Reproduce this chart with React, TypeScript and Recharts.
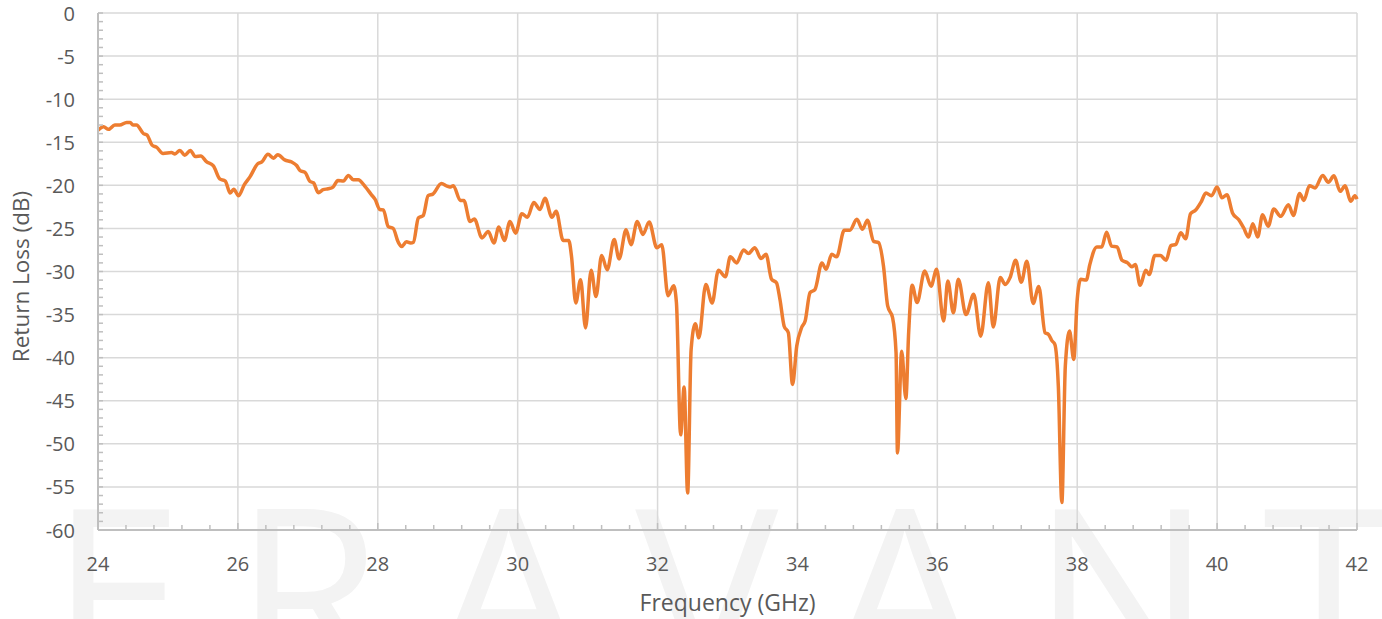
import { LineChart, Line, XAxis, YAxis, CartesianGrid } from "recharts";

// return loss sweep
const freqGHz = [
  24.0, 24.08, 24.15, 24.24, 24.31, 24.41, 24.46, 24.5, 24.55, 24.65, 24.7, 24.77, 24.84, 24.93,
  25.05, 25.1, 25.17, 25.24, 25.32, 25.39, 25.47, 25.55, 25.65, 25.74, 25.82, 25.89, 25.94,
  26.01, 26.09, 26.17, 26.29, 26.34, 26.43, 26.51, 26.57, 26.67, 26.77, 26.84, 26.89, 26.96,
  27.03, 27.08, 27.15, 27.22, 27.29, 27.36, 27.43, 27.51, 27.58, 27.65, 27.72, 27.82, 27.91, 27.96,
  28.03, 28.08, 28.15, 28.22, 28.29, 28.34, 28.41, 28.47, 28.51, 28.58, 28.65, 28.72, 28.79, 28.91, 28.99,
  29.03, 29.08, 29.18, 29.23, 29.32, 29.38, 29.49, 29.58, 29.66, 29.73, 29.81, 29.89, 29.97,
  30.06, 30.14, 30.23, 30.32, 30.39, 30.49, 30.55, 30.65, 30.73, 30.77, 30.83, 30.9, 30.97,
  31.05, 31.12, 31.2, 31.28, 31.38, 31.45, 31.55, 31.62, 31.71, 31.79, 31.88, 31.99,
  32.06, 32.15, 32.23, 32.27, 32.33, 32.38, 32.43, 32.48, 32.54, 32.59, 32.69, 32.78, 32.87, 32.97,
  33.04, 33.13, 33.23, 33.3, 33.39, 33.48, 33.55, 33.63, 33.7, 33.75, 33.81, 33.87, 33.93, 33.99,
  34.06, 34.11, 34.18, 34.25, 34.35, 34.41, 34.49, 34.56, 34.67, 34.75, 34.85, 34.93,
  35.0, 35.09, 35.16, 35.23, 35.29, 35.36, 35.41, 35.43, 35.49, 35.55, 35.59, 35.64, 35.71, 35.82, 35.91, 35.99,
  36.09, 36.15, 36.23, 36.3, 36.41, 36.52, 36.62, 36.73, 36.8, 36.9, 36.97,
  37.04, 37.12, 37.2, 37.28, 37.37, 37.45, 37.54, 37.59, 37.64, 37.68, 37.73, 37.78, 37.83, 37.89, 37.95,
  38.0, 38.05, 38.13, 38.18, 38.28, 38.35, 38.42, 38.49, 38.57, 38.64, 38.72, 38.78, 38.83, 38.9, 38.98,
  39.03, 39.11, 39.19, 39.27, 39.34, 39.41, 39.48, 39.55, 39.62, 39.69, 39.77, 39.84, 39.92,
  40.0, 40.07, 40.14, 40.22, 40.31, 40.38, 40.45, 40.51, 40.58, 40.65, 40.73, 40.81, 40.91,
  41.02, 41.09, 41.18, 41.24, 41.32, 41.4, 41.51, 41.59, 41.67, 41.76, 41.83, 41.91, 41.97, 42.0,
];

const returnLossDb = [
  -13.6, -13.2, -13.5, -13.0, -13.0, -12.7, -12.7, -13.0, -13.0, -14.0, -14.15, -15.3, -15.6, -16.3,
  -16.2, -16.35, -15.95, -16.5, -15.95, -16.65, -16.6, -17.25, -17.75, -19.25, -19.5, -20.9, -20.45,
  -21.2, -19.95, -19.05, -17.45, -17.3, -16.4, -16.85, -16.45, -17.05, -17.3, -17.7, -18.3, -18.5,
  -19.55, -19.7, -20.85, -20.5, -20.4, -20.2, -19.45, -19.5, -18.85, -19.35, -19.35, -20.15, -21.1, -21.6,
  -22.8, -22.85, -24.8, -25.0, -26.55, -27.1, -26.55, -26.7, -26.6, -23.8, -23.5, -21.2, -21.0, -19.8, -20.1,
  -20.2, -20.05, -21.75, -21.75, -24.2, -23.9, -26.1, -25.35, -26.7, -24.85, -26.4, -24.2, -25.55,
  -23.3, -23.7, -22.0, -22.8, -21.5, -23.7, -23.0, -26.4, -26.4, -28.25, -33.65, -30.95, -36.55,
  -29.85, -32.9, -28.15, -29.8, -26.3, -28.55, -25.15, -26.9, -24.2, -25.7, -24.25, -27.25,
  -26.9, -32.8, -31.65, -33.65, -48.95, -43.4, -55.7, -39.05, -36.05, -37.7, -31.5, -33.65, -29.85, -30.6,
  -28.3, -29.0, -27.5, -27.9, -27.25, -28.5, -28.0, -30.9, -31.3, -33.25, -36.35, -37.1, -43.1, -38.65,
  -36.5, -35.75, -32.45, -32.1, -29.0, -29.75, -28.0, -28.3, -25.2, -25.2, -23.95, -25.1,
  -24.05, -26.5, -26.65, -29.35, -34.0, -35.35, -39.45, -51.05, -39.25, -44.75, -37.1, -31.6, -33.6, -29.95, -31.7, -29.75,
  -35.75, -31.1, -34.8, -30.9, -35.0, -32.65, -37.5, -31.3, -36.45, -30.7, -31.5,
  -30.7, -28.7, -31.25, -28.8, -33.7, -31.75, -37.1, -37.3, -38.05, -38.45, -43.3, -56.8, -40.95, -36.9, -40.2,
  -33.25, -30.9, -31.0, -29.2, -27.15, -27.15, -25.45, -27.05, -27.15, -28.7, -29.0, -29.45, -29.2, -31.6, -29.85,
  -30.35, -28.15, -28.15, -28.7, -27.0, -26.85, -25.5, -26.2, -23.3, -22.9, -21.95, -20.9, -21.2,
  -20.2, -21.45, -21.1, -23.2, -24.0, -24.95, -26.0, -24.45, -26.0, -23.4, -24.75, -22.75, -23.6,
  -22.25, -23.5, -20.95, -21.75, -20.05, -20.3, -18.85, -19.65, -18.9, -20.7, -20.05, -21.85, -21.2, -21.6,
];

const xMajorTicks = [24, 26, 28, 30, 32, 34, 36, 38, 40, 42];
const yMajorTicks = [0, -5, -10, -15, -20, -25, -30, -35, -40, -45, -50, -55, -60];

// minor ticks: every 0.4 GHz and every 1 dB
const xTicks = Array.from({ length: 46 }, (_, i) => Math.round((24 + i * 0.4) * 10) / 10);
const yTicks = Array.from({ length: 61 }, (_, i) => (i === 0 ? 0 : -i));

const data = freqGHz.map((f, i) => ({ f, rl: returnLossDb[i] }));

const FONT = '"Open Sans", sans-serif';
const TEXT = "#595959";
const AXIS = "#bfbfbf";
const GRID = "#d9d9d9";
const ORANGE = "#ED7D31";

const XTick = ({ x, y, payload }: any) => {
  const major = xMajorTicks.includes(payload.value);
  return (
    <g>
      <line x1={x} x2={x} y1={y} y2={y - (major ? 7 : 5)} stroke={AXIS} strokeWidth={1.5} />
      {major && (
        <text x={x} y={y + 33} textAnchor="middle" dominantBaseline="central" fill={TEXT} fontSize={20} fontFamily={FONT}>
          {payload.value}
        </text>
      )}
    </g>
  );
};

const YTick = ({ x, y, payload }: any) => {
  const major = yMajorTicks.includes(payload.value);
  return (
    <g>
      <line x1={x} x2={x + 5} y1={y} y2={y} stroke={AXIS} strokeWidth={1.5} />
      {major && (
        <text x={x - 23} y={y} textAnchor="end" dominantBaseline="central" fill={TEXT} fontSize={20} fontFamily={FONT}>
          {payload.value}
        </text>
      )}
    </g>
  );
};

const XLabel = ({ viewBox }: any) => (
  <text
    x={viewBox.x + viewBox.width / 2}
    y={viewBox.y + 72}
    textAnchor="middle"
    dominantBaseline="central"
    fill={TEXT}
    fontSize={23}
    fontFamily={FONT}
  >
    Frequency (GHz)
  </text>
);

const YLabel = ({ viewBox }: any) => {
  const cx = 20;
  const cy = viewBox.y + viewBox.height / 2 + 5;
  return (
    <text
      x={cx}
      y={cy}
      transform={`rotate(-90 ${cx} ${cy})`}
      textAnchor="middle"
      dominantBaseline="central"
      fill={TEXT}
      fontSize={22.5}
      fontFamily={FONT}
    >
      Return Loss (dB)
    </text>
  );
};

export default function App() {
  return (
    <div style={{ position: "relative", width: 1382, height: 619, overflow: "hidden", background: "#fff" }}>
      <style>{"body{margin:0}"}</style>
      {/* faint company watermark behind the plot */}
      <svg width={1382} height={619} style={{ position: "absolute", left: 0, top: 0 }}>
        <text
          x={50}
          y={681}
          fontSize={240}
          fontWeight={500}
          fontFamily={FONT}
          fill="#f3f3f3"
          textLength={1345}
          lengthAdjust="spacing"
        >
          ERAVANT
        </text>
      </svg>
      <div style={{ position: "absolute", left: 0, top: 0 }}>
        <LineChart width={1382} height={619} data={data} margin={{ top: 13, right: 25, bottom: 0, left: 0 }}>
          <CartesianGrid stroke={GRID} strokeWidth={1.5} horizontalValues={yMajorTicks} verticalValues={xMajorTicks} />
          <XAxis
            dataKey="f"
            type="number"
            domain={[24, 42]}
            ticks={xTicks}
            interval={0}
            tick={<XTick />}
            tickLine={false}
            tickSize={0}
            tickMargin={0}
            axisLine={{ stroke: AXIS, strokeWidth: 2 }}
            height={89}
            label={<XLabel />}
          />
          <YAxis
            type="number"
            domain={[-60, 0]}
            ticks={yTicks}
            interval={0}
            tick={<YTick />}
            tickLine={false}
            tickSize={0}
            tickMargin={0}
            axisLine={{ stroke: AXIS, strokeWidth: 2 }}
            width={98}
            label={<YLabel />}
          />
          <Line
            dataKey="rl"
            type="monotone"
            stroke={ORANGE}
            strokeWidth={3.5}
            dot={false}
            isAnimationActive={false}
          />
        </LineChart>
      </div>
    </div>
  );
}
